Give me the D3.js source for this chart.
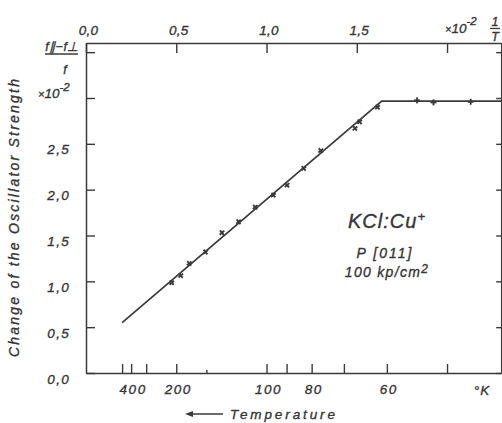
<!DOCTYPE html>
<html>
<head>
<meta charset="utf-8">
<script src="https://cdn.jsdelivr.net/npm/d3@7/dist/d3.min.js"></script>
<style>
  html, body { margin: 0; padding: 0; background: #fff; }
  svg { display: block; }
  text { font-family: "Liberation Sans", Arial, sans-serif; font-style: italic; fill: #363636; stroke: #363636; stroke-width: 0.35px; }
</style>
</head>
<body>
<svg id="chart" width="502" height="423"></svg>
<script>
// ---- data ----
const invT = [0.475, 0.525, 0.572, 0.662, 0.753, 0.845, 0.937, 1.038, 1.114, 1.206, 1.300, 1.490, 1.516, 1.615, 1.834, 1.925, 2.131];
const strength = [0.985, 1.063, 1.196, 1.32, 1.53, 1.65, 1.81, 1.94, 2.05, 2.232, 2.426, 2.668, 2.74, 2.90, 2.974, 2.952, 2.959];
const fitInvT = [0.2, 1.638, 2.3];
const fitStrength = [0.55, 2.966, 2.966];
const topTicks = [0, 0.5, 1.0, 1.5, 2.0];
const topLabelled = [0, 0.5, 1.0, 1.5];
const leftTicks = [0, 0.5, 1.0, 1.5, 2.0, 2.5, 3.0, 3.5];
const leftLabelled = [0, 0.5, 1.0, 1.5, 2.0, 2.5];
const tempTicks = [500, 400, 300, 200, 150, 100, 90, 80, 70, 60, 50];
const tempLabelled = [400, 200, 100, 80, 60];
const tempMinor = [150];

const ink = "#3a3a3a";
const svg = d3.select("#chart");

const x = d3.scaleLinear().domain([0, 2.3]).range([86, 501.2]);
const y = d3.scaleLinear().domain([0, 3.6]).range([373, 43]);
const comma = v => d3.format(".1f")(v).replace(".", ",");

function styleAxis(g) {
  g.select(".domain").attr("stroke", ink).attr("stroke-width", 1.5);
  g.selectAll(".tick line").attr("stroke", ink).attr("stroke-width", 1.4);
  g.selectAll(".tick text").attr("fill", "#363636").attr("font-family", "Liberation Sans, Arial, sans-serif")
    .attr("font-style", "italic");
}

// top axis (1/T)
const gTop = svg.append("g").attr("transform", `translate(0,${y(3.6)})`)
  .call(d3.axisTop(x).tickValues(topTicks).tickSize(-10).tickSizeOuter(0).tickPadding(8)
    .tickFormat(v => topLabelled.includes(v) ? comma(v) : ""));
styleAxis(gTop);
gTop.selectAll(".tick text").attr("font-size", 13.5).attr("dx", 2).attr("letter-spacing", 0.3);

// bottom axis (temperature)
const gBot = svg.append("g").attr("transform", `translate(0,${y(0)})`)
  .call(d3.axisBottom(x).tickValues(tempTicks.map(t => 100 / t)).tickSize(-9).tickSizeOuter(0).tickPadding(11)
    .tickFormat((v, i) => tempLabelled.includes(tempTicks[i]) ? String(tempTicks[i]) : ""));
styleAxis(gBot);
gBot.selectAll(".tick text").attr("font-size", 13.5).attr("dx", 1.5).attr("letter-spacing", 1.5);
gBot.selectAll(".tick line").attr("y2", (d, i) => tempMinor.includes(tempTicks[i]) ? -3 : -9);

// left axis
const gLeft = svg.append("g").attr("transform", `translate(${x(0)},0)`)
  .call(d3.axisLeft(y).tickValues(leftTicks).tickSize(-9).tickSizeOuter(0).tickPadding(16)
    .tickFormat(v => leftLabelled.includes(v) ? comma(v) : ""));
styleAxis(gLeft);
gLeft.selectAll(".tick text").attr("font-size", 13.5).attr("dy", "0.75em").attr("letter-spacing", 1.3);

// right axis
const gRight = svg.append("g").attr("transform", `translate(${x(2.3)},0)`)
  .call(d3.axisRight(y).tickValues(leftTicks).tickSize(-5).tickSizeOuter(0).tickFormat(""));
styleAxis(gRight);

// fit line
const line = d3.line().x(d => x(d[0])).y(d => y(d[1]));
const fitPts = fitInvT.map((v, i) => [v, fitStrength[i]]);
svg.append("path").datum(fitPts).attr("d", line)
  .attr("fill", "none").attr("stroke", ink).attr("stroke-width", 1.7);

// markers: cross oriented along the fit line
function segAngle(v) {
  let k = 0;
  while (k < fitInvT.length - 2 && v > fitInvT[k + 1]) k++;
  const dx = x(fitInvT[k + 1]) - x(fitInvT[k]);
  const dy = y(fitStrength[k + 1]) - y(fitStrength[k]);
  return Math.atan2(dy, dx) * 180 / Math.PI;
}
const mk = svg.append("g").selectAll("g").data(invT.map((v, i) => [v, strength[i]])).join("g")
  .attr("transform", d => `translate(${x(d[0])},${y(d[1])}) rotate(${segAngle(d[0])})`);
mk.append("line").attr("x1", -3).attr("x2", 3).attr("y1", 0).attr("y2", 0)
  .attr("stroke", ink).attr("stroke-width", 1.9);
mk.append("line").attr("x1", 0).attr("x2", 0).attr("y1", -3).attr("y2", 3)
  .attr("stroke", ink).attr("stroke-width", 1.9);

// left header: (f|| - f⊥)/f  ×10^-2
svg.append("text").attr("x", 62).attr("y", 51).attr("text-anchor", "middle").attr("font-size", 12.5)
  .attr("letter-spacing", 0.5).text("f\u2225\u2212f\u22A5");
svg.append("line").attr("x1", 45).attr("x2", 78).attr("y1", 54).attr("y2", 54)
  .attr("stroke", ink).attr("stroke-width", 1.4);
svg.append("text").attr("x", 65).attr("y", 74).attr("text-anchor", "middle").attr("font-size", 12.5).text("f");
const lx = svg.append("text").attr("x", 38).attr("y", 98).attr("font-size", 13.5);
lx.append("tspan").attr("font-size", 11).text("\u00D7");
lx.append("tspan").text("10");
lx.append("tspan").attr("dy", -7).attr("font-size", 11.5).text("-2");

// top right: ×10^-2 1/T
const tx = svg.append("text").attr("x", 445).attr("y", 33).attr("font-size", 13.5);
tx.append("tspan").attr("font-size", 11).text("\u00D7");
tx.append("tspan").text("10");
tx.append("tspan").attr("dy", -8).attr("font-size", 11.5).text("-2");
svg.append("text").attr("x", 495).attr("y", 26).attr("text-anchor", "middle").attr("font-size", 12.5).text("1");
svg.append("line").attr("x1", 490).attr("x2", 500).attr("y1", 28.5).attr("y2", 28.5)
  .attr("stroke", ink).attr("stroke-width", 1.3);
svg.append("text").attr("x", 495).attr("y", 41).attr("text-anchor", "middle").attr("font-size", 12.5).text("T");

// °K
svg.append("text").attr("x", 482).attr("y", 395).attr("text-anchor", "middle").attr("font-size", 13.5)
  .attr("letter-spacing", 1).text("\u00B0K");

// y title
svg.append("text").attr("transform", "translate(19,218) rotate(-90)").attr("text-anchor", "middle")
  .attr("font-size", 14).attr("textLength", 278).attr("lengthAdjust", "spacing")
  .text("Change of the Oscillator Strength");

// temperature arrow + label
svg.append("line").attr("x1", 190).attr("x2", 223).attr("y1", 414).attr("y2", 414)
  .attr("stroke", ink).attr("stroke-width", 1.5);
svg.append("path").attr("d", "M185,414 L193,411 L193,417 Z").attr("fill", ink);
svg.append("text").attr("x", 230).attr("y", 419).attr("font-size", 13.5)
  .attr("textLength", 105).attr("lengthAdjust", "spacing").text("Temperature");

// annotation
const k1 = svg.append("text").attr("x", 387).attr("y", 228).attr("text-anchor", "middle")
  .attr("font-size", 20).attr("letter-spacing", 1).attr("stroke-width", 0.6);
k1.append("tspan").text("KCl:Cu");
k1.append("tspan").attr("dy", -7).attr("font-size", 13).text("+");
svg.append("text").attr("x", 385).attr("y", 258).attr("text-anchor", "middle").attr("font-size", 14)
  .attr("letter-spacing", 2).text("P  [011]");
const k3 = svg.append("text").attr("x", 387).attr("y", 277).attr("text-anchor", "middle")
  .attr("font-size", 14).attr("letter-spacing", 1.3);
k3.append("tspan").text("100 kp/cm");
k3.append("tspan").attr("dy", -4).attr("font-size", 12).text("2");
</script>
</body>
</html>
